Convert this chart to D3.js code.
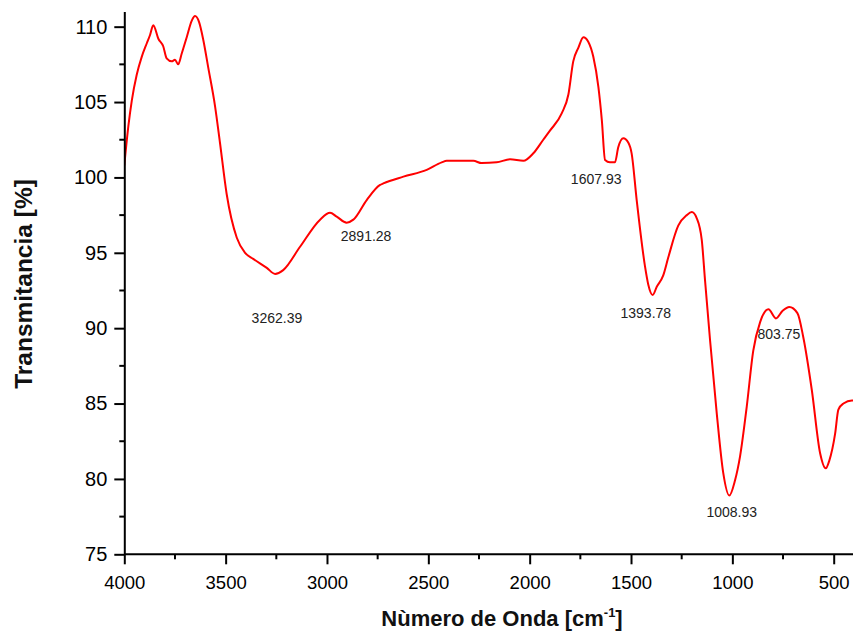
<!DOCTYPE html>
<html>
<head>
<meta charset="utf-8">
<script src="https://cdn.jsdelivr.net/npm/d3@7"></script>
<style>
  body { margin: 0; background: #fff; }
  svg { font-family: Arial, "Liberation Sans", sans-serif; }
</style>
</head>
<body>
<div id="chart"></div>
<script>
// wavenumber (cm-1) and transmittance (%)
var waveNumber = [4000, 3980, 3963, 3939, 3914, 3889, 3873, 3857, 3832, 3808, 3791, 3766, 3750, 3734, 3717, 3692, 3667, 3651, 3631, 3610, 3586, 3552, 3528, 3495, 3445, 3404, 3364, 3297, 3256, 3216, 3133, 3034, 2985, 2952, 2903, 2870, 2804, 2738, 2722, 2623, 2508, 2434, 2409, 2278, 2237, 2163, 2097, 2031, 1982, 1933, 1900, 1842, 1809, 1785, 1760, 1735, 1711, 1686, 1661, 1644, 1628, 1604, 1579, 1563, 1538, 1513, 1497, 1472, 1431, 1415, 1393, 1373, 1341, 1316, 1267, 1225, 1200, 1176, 1151, 1135, 1110, 1077, 1045, 1015, 987, 962, 929, 897, 863, 822, 785, 752, 719, 679, 650, 608, 567, 539, 522, 493, 477, 452, 410, 400]
var transmit = [100.8, 103.4, 105.1, 106.8, 108.0, 108.9, 109.45, 110.1, 109.2, 108.7, 107.9, 107.7, 107.8, 107.5, 108.2, 109.3, 110.4, 110.7, 110.3, 109.1, 107.3, 104.7, 102.3, 98.9, 96.0, 95.0, 94.6, 94.0, 93.6, 93.85, 95.4, 97.2, 97.65, 97.4, 97.0, 97.2, 98.5, 99.5, 99.6, 100.05, 100.5, 101.0, 101.1, 101.1, 100.95, 101.0, 101.2, 101.1, 101.6, 102.5, 103.1, 104.25, 105.5, 107.7, 108.6, 109.3, 109.0, 108.0, 106.0, 103.8, 101.15, 101.0, 101.0, 102.0, 102.6, 102.3, 101.6, 98.5, 94.1, 92.9, 92.2, 92.75, 93.5, 94.7, 96.8, 97.5, 97.7, 97.3, 95.85, 93.2, 89.2, 84.35, 80.4, 78.9, 79.9, 81.5, 84.8, 88.5, 90.4, 91.25, 90.65, 91.15, 91.4, 91.0, 89.4, 85.9, 81.7, 80.7, 81.2, 83.0, 84.6, 85.0, 85.2, 85.2]

// peak labels and where they sit (data units)
var peakLabels = ["3262.39", "2891.28", "1607.93", "1393.78", "1008.93", "803.75"]
var peakLabelX = [3247, 2807, 1672, 1427, 1003, 770]
var peakLabelY = [90.34, 95.75, 99.56, 90.67, 77.47, 89.28]

var xTicks = [4000, 3500, 3000, 2500, 2000, 1500, 1000, 500]
var xMinor = [3750, 3250, 2750, 2250, 1750, 1250, 750]
var yTicks = [75, 80, 85, 90, 95, 100, 105, 110]
var yMinor = [77.5, 82.5, 87.5, 92.5, 97.5, 102.5, 107.5]

var width = 853, height = 639
var plot = {left: 124.3, right: 853, top: 11.6, bottom: 554.3}

var svg = d3.select("#chart").append("svg")
  .attr("width", width)
  .attr("height", height)

var x = d3.scaleLinear().domain([4000, 500]).range([124.3, 833.7])
var y = d3.scaleLinear().domain([75, 111]).range([plot.bottom, plot.top])

svg.append("clipPath").attr("id", "clip")
  .append("rect")
  .attr("x", plot.left).attr("y", 0)
  .attr("width", plot.right - plot.left).attr("height", plot.bottom)

// spectrum
var line = d3.line()
  .x(function(d, i) { return x(waveNumber[i]) })
  .y(function(d) { return y(d) })
  .curve(d3.curveMonotoneX)

svg.append("path")
  .datum(transmit)
  .attr("clip-path", "url(#clip)")
  .attr("d", line)
  .style("fill", "none")
  .style("stroke", "#ff0000")
  .style("stroke-width", 2)

// axes
var xAxis = d3.axisBottom(x).tickValues(xTicks).tickFormat(d3.format("d"))
  .tickSize(10).tickPadding(11.5).tickSizeOuter(0)
var gx = svg.append("g")
  .attr("transform", "translate(0," + plot.bottom + ")")
  .call(xAxis)
gx.select(".domain").attr("d", "M" + plot.left + ",0H" + plot.right)
gx.selectAll(null).data(xMinor).enter().append("line")
  .attr("x1", function(d) { return x(d) }).attr("x2", function(d) { return x(d) })
  .attr("y1", 0).attr("y2", 5)
  .style("stroke", "#000").style("stroke-width", 2)

var yAxis = d3.axisLeft(y).tickValues(yTicks).tickFormat(d3.format("d"))
  .tickSize(10).tickPadding(7).tickSizeOuter(0)
var gy = svg.append("g")
  .attr("transform", "translate(" + plot.left + ",0)")
  .call(yAxis)
gy.selectAll(null).data(yMinor).enter().append("line")
  .attr("y1", function(d) { return y(d) }).attr("y2", function(d) { return y(d) })
  .attr("x1", 0).attr("x2", -5)
  .style("stroke", "#000").style("stroke-width", 2)

svg.selectAll(".domain, .tick line").style("stroke", "#000").style("stroke-width", 2)
svg.selectAll(".tick text")
  .style("fill", "#000")
  .style("font-family", "Arial, 'Liberation Sans', sans-serif")
gx.selectAll(".tick text").style("font-size", "18.5px")
gy.selectAll(".tick text").style("font-size", "20px")

// peak annotations
svg.selectAll(".peak")
  .data(peakLabels)
  .enter().append("text")
  .attr("class", "peak")
  .attr("x", function(d, i) { return x(peakLabelX[i]) })
  .attr("y", function(d, i) { return y(peakLabelY[i]) })
  .attr("text-anchor", "middle")
  .style("font-size", "14px")
  .style("fill", "#222")
  .text(function(d) { return d })

// axis titles
var xt = svg.append("text")
  .attr("x", 502)
  .attr("y", 626)
  .attr("text-anchor", "middle")
  .style("font-size", "22px")
  .style("font-weight", "bold")
  .style("fill", "#111")
xt.append("tspan").text("Nùmero de Onda [cm")
xt.append("tspan").attr("dy", -9).style("font-size", "13px").text("-1")
xt.append("tspan").attr("dy", 9).text("]")

svg.append("text")
  .attr("transform", "translate(32,284) rotate(-90)")
  .attr("text-anchor", "middle")
  .style("font-size", "24.5px")
  .style("font-weight", "bold")
  .style("fill", "#111")
  .text("Transmitancia [%]")
</script>
</body>
</html>
